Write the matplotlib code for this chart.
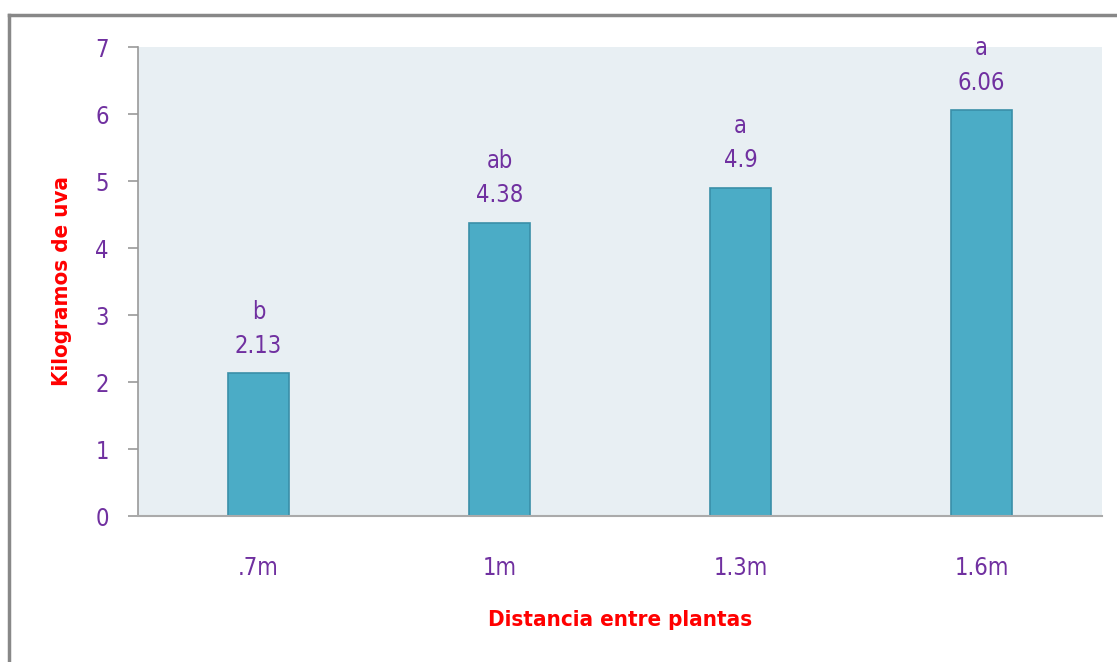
import matplotlib.pyplot as plt
from matplotlib.lines import Line2D
import numpy as np

# data
categories = [".7m", "1m", "1.3m", "1.6m"]
kilos = [2.13, 4.38, 4.9, 6.06]
letters = ["b", "ab", "a", "a"]

PURPLE = "#7030A0"
RED = "#FF0000"
BAR = "#4BACC6"
BAR_EDGE = "#3A8FA8"
BG = "#E8EFF3"

plt.rcParams["font.family"] = ["DejaVu Sans"]
plt.rcParams["font.stretch"] = "condensed"

fig = plt.figure(figsize=(11.17, 6.62), dpi=100)
ax = fig.add_axes([0.1235, 0.2205, 0.8631, 0.7085])

x = np.arange(len(categories))
ax.bar(x, kilos, width=0.25, color=BAR, edgecolor=BAR_EDGE, linewidth=1.2, zorder=2)

# significance letter above the value
for xi, v, lab in zip(x, kilos, letters):
    ax.annotate(f"{lab}\n{v:g}", xy=(xi, v), xytext=(0, 11), textcoords="offset points",
                ha="center", va="bottom", color=PURPLE, fontsize=17, linespacing=1.55)

ax.set_xlim(-0.5, 3.5)
ax.set_ylim(0, 7)
ax.set_facecolor(BG)
ax.set_xticks(x)
ax.set_xticklabels(categories)
ax.set_yticks(range(0, 8))
ax.tick_params(axis="x", length=0, pad=29, labelcolor=PURPLE, labelsize=17)
ax.tick_params(axis="y", length=7, width=1.2, color="#999999", pad=14, labelcolor=PURPLE, labelsize=17)

for s in ["top", "right"]:
    ax.spines[s].set_visible(False)
ax.spines["left"].set_color("#999999")
ax.spines["bottom"].set_color("#AAAAAA")
ax.spines["left"].set_linewidth(1.2)
ax.spines["bottom"].set_linewidth(1.5)

fig.text(0.555, 0.063, "Distancia entre plantas", color=RED, fontsize=16,
         fontweight="bold", ha="center", va="center")
fig.text(0.0555, 0.575, "Kilogramos de uva", color=RED, fontsize=16,
         fontweight="bold", ha="center", va="center", rotation=90)

# frame around the figure (left and top only visible)
fig.add_artist(Line2D([0.0085, 0.0085], [0, 0.9775], transform=fig.transFigure,
                      color="#888888", linewidth=2.5))
fig.add_artist(Line2D([0.0085, 1.0], [0.9775, 0.9775], transform=fig.transFigure,
                      color="#888888", linewidth=2.5))

fig.savefig("out.png", dpi=100)
